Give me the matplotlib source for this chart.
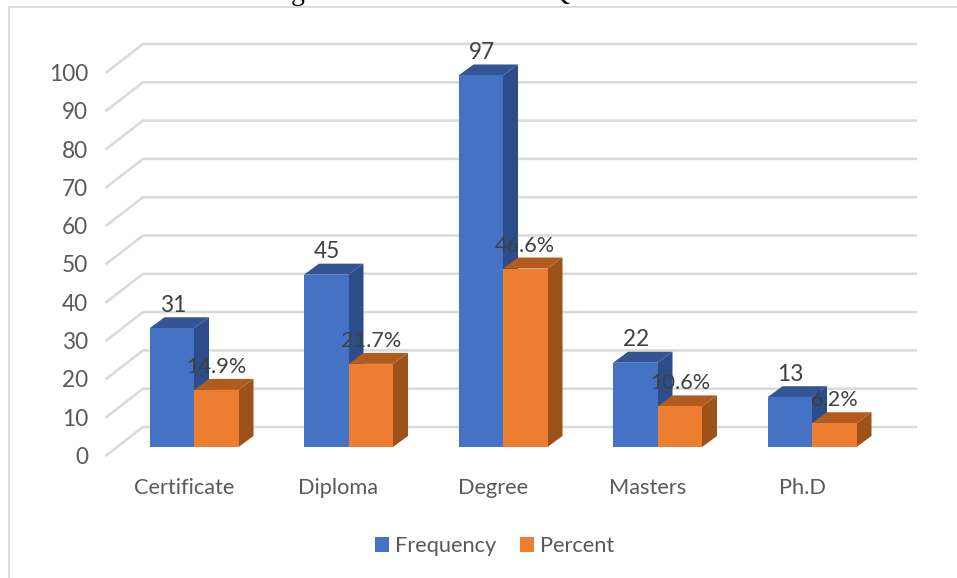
import matplotlib
matplotlib.use("Agg")
import matplotlib.pyplot as plt
from matplotlib.patches import Polygon

categories = ["Certificate", "Diploma", "Degree", "Masters", "Ph.D"]
frequency = [31, 45, 97, 22, 13]
percent = [14.9, 21.7, 46.6, 10.6, 6.2]
y_ticks = [0, 10, 20, 30, 40, 50, 60, 70, 80, 90, 100]
series_names = ["Frequency", "Percent"]

W, H = 957, 578
PX_PER_CAT = 154.5      # horizontal pixels per category
PX_PER_VAL = 3.83       # vertical pixels per value unit
X0_PX, Y0_PX = 194.0, 447.0  # pixel of the first category at value 0

plt.rcParams["font.family"] = ["Lato", "DejaVu Sans"]
fig = plt.figure(figsize=(W / 100, H / 100), dpi=100)
ax = fig.add_axes([0, 0, 1, 1])
ax.set_xlim(-X0_PX / PX_PER_CAT, (W - X0_PX) / PX_PER_CAT)
ax.set_ylim(-(H - Y0_PX) / PX_PER_VAL, Y0_PX / PX_PER_VAL)
ax.axis("off")


def dx(px):
    return px / PX_PER_CAT


def dy(px):
    return px / PX_PER_VAL


GRID = "#d9d9d9"
TEXT = "#595959"
LABEL = "#404040"
BLUE = ("#4472c4", "#2c4d89", "#335593")
ORANGE = ("#ed7d31", "#9c5219", "#b25b1e")
BAR_W = dx(44.5)
DEPTH_X, DEPTH_Y = dx(15), dy(11)
NUM_SIZE = 16.3
PCT_SIZE = 15.6
WORD_SIZE = 15.7

# the chart frame shows only along its top and left sides
frame_x = dx(9 - X0_PX)
frame_y = dy(Y0_PX - 7.5)
ax.plot([frame_x, frame_x, dx(W - X0_PX)], [dy(Y0_PX - H), frame_y, frame_y],
        color=GRID, lw=1.3, zorder=1)

# descenders of the caption above the chart, cut off by the top edge
fig.text(298 / W, 1.0, "g", family="Liberation Serif", fontsize=20, color="black",
         ha="center", va="baseline")
fig.text(560 / W, 1.0, "Q", family="Liberation Serif", fontsize=20, color="black",
         ha="center", va="baseline")

# wall and floor gridlines
wall_left = dx(105.5 - X0_PX)
wall_back = dx(143 - X0_PX)
wall_right = dx(917 - X0_PX)
for t in y_ticks:
    y_front = t + dy(447 - 456)
    y_back = t + dy(447 - 427)
    ax.plot([wall_left, wall_back, wall_right], [y_front, y_back, y_back],
            color=GRID, lw=1.8, solid_capstyle="butt", zorder=2)
    ax.text(dx(88 - X0_PX), t + dy(447 - 457.5), str(t), ha="right", va="center",
            fontsize=NUM_SIZE, color=TEXT, zorder=6)


def draw_bars(left_edges, values, colors, name):
    ax.bar(left_edges, values, width=BAR_W, align="edge", color=colors[0],
           zorder=4, linewidth=0, label=name)
    for x, v in zip(left_edges, values):
        right = x + BAR_W
        ax.add_patch(Polygon([(right, 0), (right + DEPTH_X, DEPTH_Y),
                              (right + DEPTH_X, v + DEPTH_Y), (right, v)],
                             fc=colors[1], ec="none", zorder=3))
        ax.add_patch(Polygon([(x, v), (x + DEPTH_X, v + DEPTH_Y),
                              (right + DEPTH_X, v + DEPTH_Y), (right, v)],
                             fc=colors[2], ec="none", zorder=3))


xs = list(range(len(categories)))
draw_bars([x - BAR_W for x in xs], frequency, BLUE, series_names[0])
draw_bars(xs, percent, ORANGE, series_names[1])

# value labels sit just above the top face of each bar
for x, f, p in zip(xs, frequency, percent):
    ax.text(x - BAR_W / 2 + dx(1), f + DEPTH_Y + dy(1.5), str(f), ha="center", va="bottom",
            fontsize=NUM_SIZE, color=LABEL, zorder=7)
    ax.text(x + BAR_W / 2, p + DEPTH_Y + dy(2), f"{p}%", ha="center", va="bottom",
            fontsize=PCT_SIZE, color=LABEL, zorder=7)

for x, name in zip(xs, categories):
    ax.text(x - dx(10), dy(447 - 488), name, ha="center", va="center",
            fontsize=WORD_SIZE, color=TEXT, zorder=6)

handles, labels = ax.get_legend_handles_labels()
ax.legend(handles, labels, loc="center", bbox_to_anchor=(494.5 / W, 1 - 546 / H),
          ncol=2, frameon=False, fontsize=WORD_SIZE, labelcolor=TEXT, handlelength=0.63,
          handleheight=0.64, handletextpad=0.27, columnspacing=1.09)

fig.savefig("out.png", dpi=100, facecolor="white")
